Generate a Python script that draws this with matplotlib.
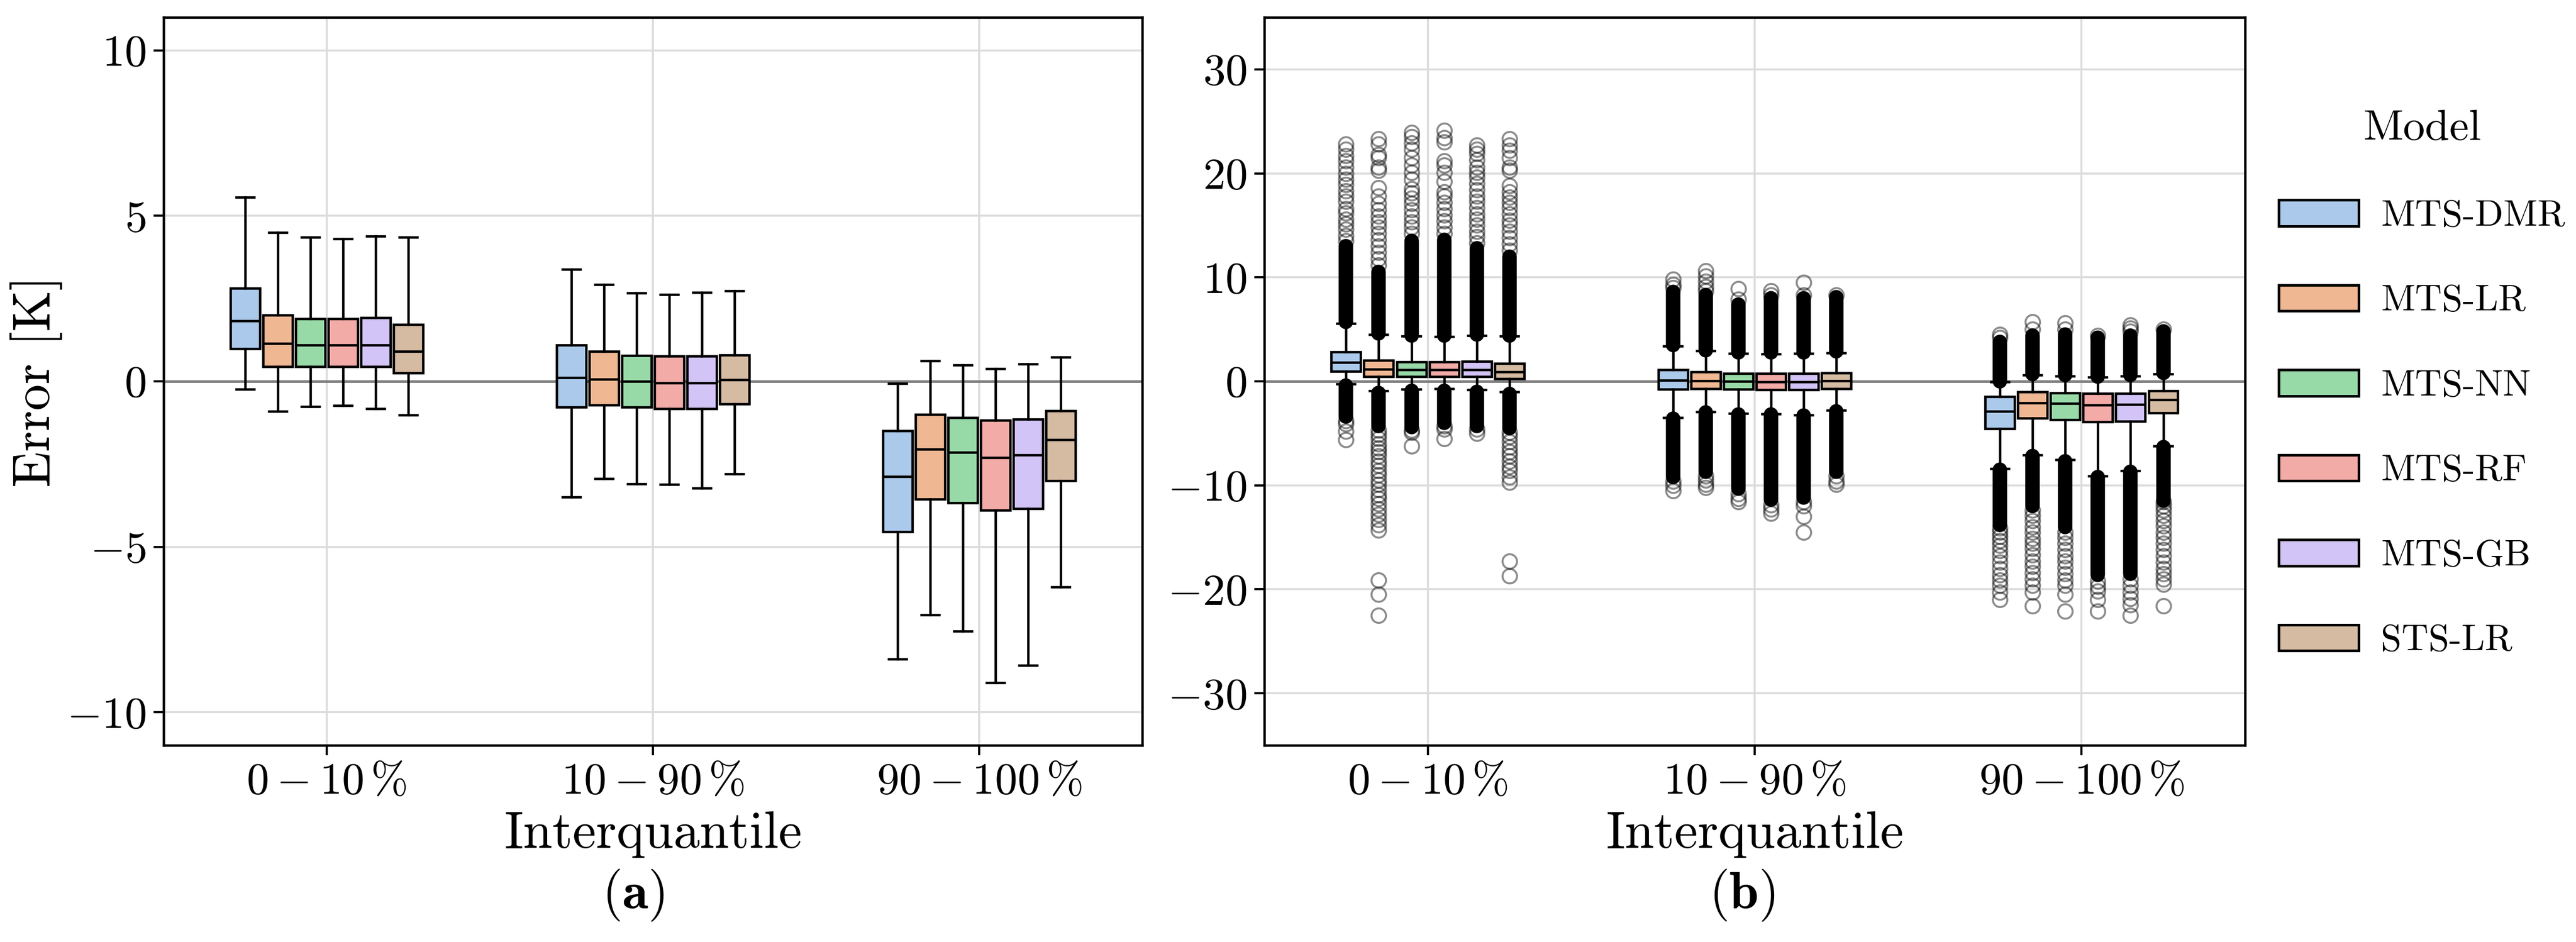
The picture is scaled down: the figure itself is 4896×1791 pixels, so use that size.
import numpy as np
import matplotlib
matplotlib.use("Agg")
import matplotlib.pyplot as plt
from matplotlib.patches import Patch
import seaborn as sns

plt.rcParams['font.family'] = ['cmr10']
plt.rcParams['mathtext.fontset'] = 'cm'
plt.rcParams['axes.formatter.use_mathtext'] = True
plt.rcParams['axes.unicode_minus'] = True

models = ["MTS-DMR", "MTS-LR", "MTS-NN", "MTS-RF", "MTS-GB", "STS-LR"]
groups = [r"$0-10\,\%$", r"$10-90\,\%$", r"$90-100\,\%$"]

# box statistics, rows = interquantile group, columns = model
whishi = [[5.57, 4.50, 4.36, 4.30, 4.39, 4.36],
          [3.38, 2.92, 2.67, 2.63, 2.69, 2.74],
          [-0.07, 0.62, 0.49, 0.38, 0.53, 0.73]]
q3 = [[2.81, 2.01, 1.89, 1.89, 1.92, 1.72],
      [1.09, 0.91, 0.78, 0.76, 0.76, 0.80],
      [-1.49, -1.00, -1.09, -1.18, -1.14, -0.89]]
med = [[1.83, 1.14, 1.09, 1.09, 1.09, 0.91],
       [0.11, 0.07, 0.00, -0.04, -0.05, 0.05],
       [-2.87, -2.05, -2.14, -2.30, -2.23, -1.76]]
q1 = [[0.98, 0.45, 0.45, 0.45, 0.45, 0.25],
      [-0.78, -0.71, -0.78, -0.82, -0.83, -0.69],
      [-4.54, -3.56, -3.67, -3.90, -3.85, -3.01]]
whislo = [[-0.24, -0.91, -0.76, -0.73, -0.83, -1.02],
          [-3.50, -2.94, -3.10, -3.12, -3.23, -2.79],
          [-8.40, -7.06, -7.55, -9.11, -8.58, -6.21]]

# ranges where outliers overlap into a solid column (lowest, highest)
up_dense = [[(5.7, 13.0), (4.6, 10.5), (4.4, 13.5), (4.4, 13.6), (4.5, 12.8), (4.4, 12.0)],
            [(3.5, 8.6), (3.0, 8.3), (2.8, 7.4), (2.8, 8.0), (2.8, 8.0), (2.9, 8.1)],
            [(0.0, 3.8), (0.7, 4.4), (0.6, 4.5), (0.45, 4.2), (0.6, 4.4), (0.8, 4.8)]]
low_dense = [[(-3.4, -0.4), (-4.3, -1.1), (-4.4, -0.9), (-4.0, -0.9), (-4.3, -1.0), (-4.5, -1.2)],
             [(-9.2, -3.6), (-8.7, -3.0), (-10.3, -3.2), (-11.4, -3.2), (-11.2, -3.3), (-8.7, -2.9)],
             [(-13.8, -8.5), (-12.0, -7.2), (-14.0, -7.7), (-18.6, -9.2), (-18.5, -8.7), (-11.5, -6.3)]]

# single outliers outside the solid columns
up_sparse = [
    [[13.5, 14.0, 14.6, 15.1, 15.6, 16.2, 16.6, 17.3, 17.8, 18.3, 18.9, 19.4, 20.0, 20.6, 21.2, 21.7, 22.3, 22.8],
     [11.2, 11.8, 12.4, 13.0, 13.6, 14.2, 14.8, 15.3, 15.9, 16.5, 17.1, 17.8, 18.6, 20.3, 20.6, 21.5, 21.8, 22.8, 23.3],
     [14.2, 14.8, 15.3, 15.9, 16.5, 17.1, 17.6, 18.1, 18.5, 19.4, 20.1, 20.8, 21.5, 22.3, 22.9, 23.5, 23.9],
     [14.2, 14.8, 15.4, 16.0, 16.6, 17.2, 17.8, 18.2, 19.2, 20.1, 20.8, 21.2, 23.0, 23.4, 24.1],
     [13.3, 13.9, 14.4, 15.0, 15.6, 16.1, 16.7, 17.3, 17.8, 18.4, 19.0, 19.6, 20.1, 20.6, 21.3, 21.9, 22.3, 22.7],
     [12.6, 13.2, 13.8, 14.4, 15.0, 15.5, 16.1, 16.7, 17.2, 17.7, 18.2, 18.8, 20.3, 20.6, 21.5, 22.2, 22.7, 23.3]],
    [[9.0, 9.3, 9.8], [8.7, 9.1, 9.6, 10.1, 10.6], [7.9, 8.9], [8.3, 8.7], [8.3, 9.5], [8.3]],
    [[4.2, 4.5], [5.0, 5.7], [5.0, 5.6], [4.4], [4.8, 5.1, 5.4], [5.0]],
]
low_sparse = [
    [[-3.8, -4.1, -4.8, -5.6],
     [-4.7, -5.1, -5.5, -6.0, -6.4, -6.8, -7.2, -7.7, -8.1, -8.6, -9.0, -9.5, -9.9, -10.4, -10.9, -11.3,
      -11.8, -12.3, -12.8, -13.3, -13.8, -14.3, -19.1, -20.5, -22.5],
     [-4.7, -4.9, -6.2],
     [-4.3, -4.6, -5.5],
     [-4.6, -5.0],
     [-4.9, -5.3, -5.8, -6.3, -6.8, -7.2, -7.7, -8.2, -8.6, -9.2, -9.7, -17.3, -18.7]],
    [[-9.6, -10.0, -10.5], [-9.1, -9.5, -9.9, -10.2], [-10.8, -11.3, -11.6], [-11.9, -12.3, -12.7],
     [-11.6, -12.0, -13.0, -14.5], [-9.1, -9.6, -9.9]],
    [[-14.1, -14.5, -14.9, -15.3, -15.8, -16.3, -16.8, -17.4, -18.0, -18.6, -19.1, -19.6, -20.3, -21.0],
     [-12.4, -12.9, -13.4, -14.0, -14.5, -15.1, -15.6, -16.1, -16.7, -17.3, -17.8, -18.4, -19.0, -19.6, -20.3, -21.6],
     [-14.5, -15.0, -15.6, -16.2, -16.8, -17.3, -17.9, -18.5, -19.1, -19.6, -20.5, -22.1],
     [-19.2, -19.7, -20.2, -21.0, -22.1],
     [-19.0, -19.6, -20.3, -20.9, -21.5, -22.5],
     [-11.6, -12.0, -12.4, -12.9, -13.4, -13.9, -14.5, -15.0, -15.6, -16.2, -16.8, -17.4, -18.0, -18.5,
      -19.0, -19.5, -21.6]],
]

colors = [sns.desaturate(c, 0.75) for c in sns.color_palette("pastel", 6)]

slot = 0.1
box_w = 0.09
flier_ms = 6.6

fig = plt.figure(figsize=(16.32, 5.97), dpi=300)
ax_a = fig.add_axes([0.0635, 0.2088, 0.3799, 0.7728])
ax_b = fig.add_axes([0.4908, 0.2088, 0.3807, 0.7728])


def draw(ax, with_fliers):
    for g in range(len(groups)):
        for m in range(len(models)):
            pos = g + (m - 2.5) * slot
            fl = []
            if with_fliers:
                fl = up_sparse[g][m] + low_sparse[g][m]
            stats = [dict(med=med[g][m], q1=q1[g][m], q3=q3[g][m],
                          whislo=whislo[g][m], whishi=whishi[g][m], fliers=fl)]
            ax.bxp(stats, positions=[pos], widths=box_w, patch_artist=True,
                   showfliers=with_fliers, capwidths=0.055,
                   boxprops=dict(facecolor=colors[m], edgecolor='black', linewidth=1.1),
                   medianprops=dict(color='black', linewidth=1.1),
                   whiskerprops=dict(color='black', linewidth=1.1),
                   capprops=dict(color='black', linewidth=1.1),
                   flierprops=dict(marker='o', markerfacecolor='none', markeredgecolor='black',
                                   markersize=flier_ms, markeredgewidth=0.9, alpha=0.45),
                   manage_ticks=False, zorder=3)
            if with_fliers:
                for lo, hi in (up_dense[g][m], low_dense[g][m]):
                    ax.plot([pos, pos], [lo, hi], color='black', linewidth=flier_ms,
                            solid_capstyle='round', zorder=2.5)
    ax.axhline(0, color='#808080', linewidth=1.2, zorder=2)
    ax.set_xlim(-0.5, 2.5)
    ax.set_xticks(range(len(groups)))
    ax.set_xticklabels(groups)
    ax.set_xlabel("Interquantile", fontsize=24, labelpad=4)
    ax.grid(True, color='#dcdcdc', linewidth=0.9)
    ax.set_axisbelow(True)
    ax.tick_params(labelsize=20.5, length=4.5, width=1.0)
    for s in ax.spines.values():
        s.set_linewidth(1.1)
        s.set_color('black')


draw(ax_a, False)
ax_a.set_ylim(-11, 11)
ax_a.set_yticks([-10, -5, 0, 5, 10])
ax_a.set_ylabel("Error [K]", fontsize=24)
ax_a.yaxis.set_label_coords(-0.103, 0.5)

draw(ax_b, True)
ax_b.set_ylim(-35, 35)
ax_b.set_yticks([-30, -20, -10, 0, 10, 20, 30])

fig.text(0.2457, 0.050, r'$(\mathbf{a})$', ha='center', va='center', fontsize=24)
fig.text(0.6763, 0.050, r'$(\mathbf{b})$', ha='center', va='center', fontsize=24)

handles = [Patch(facecolor=colors[m], edgecolor='black', linewidth=1.2, label=models[m])
           for m in range(len(models))]
leg = fig.legend(handles=handles, title="Model", loc='upper left',
                 bbox_to_anchor=(0.8715, 0.919), frameon=False, fontsize=17,
                 title_fontsize=20, labelspacing=1.38, handlelength=2.15, handletextpad=0.6)

fig.savefig("out.png", dpi=300)
